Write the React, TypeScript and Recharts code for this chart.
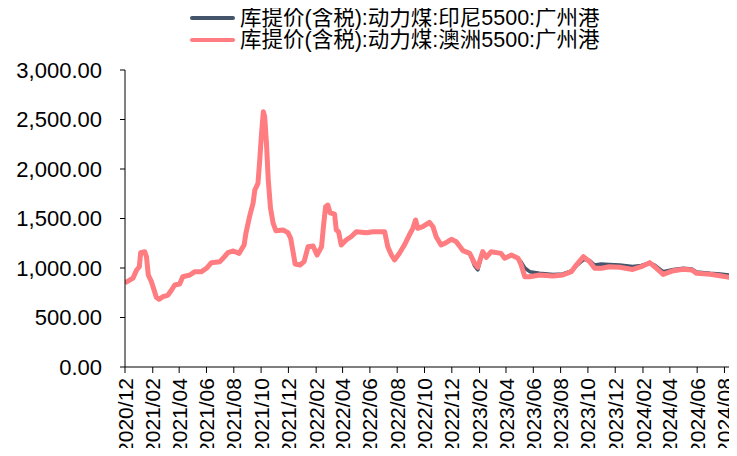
import React from "react";
import { CartesianGrid, Line, LineChart, XAxis, YAxis } from "recharts";

const seriesNames = [
  "库提价(含税):动力煤:印尼5500:广州港",
  "库提价(含税):动力煤:澳洲5500:广州港",
];
const seriesColors = ["#44546A", "#FF7C80"];

const dates = [
  "2020-12-01", "2020-12-19", "2020-12-27", "2021-01-02", "2021-01-05", "2021-01-14", "2021-01-18", "2021-01-22", "2021-01-29", "2021-02-09",
  "2021-02-15", "2021-02-24", "2021-03-07", "2021-03-15", "2021-03-22", "2021-04-02", "2021-04-09", "2021-04-25", "2021-05-06", "2021-05-21",
  "2021-06-01", "2021-06-12", "2021-07-01", "2021-07-08", "2021-07-19", "2021-07-31", "2021-08-13", "2021-08-24", "2021-08-28", "2021-09-06",
  "2021-09-13", "2021-09-17", "2021-09-24", "2021-09-28", "2021-10-02", "2021-10-06", "2021-10-09", "2021-10-13", "2021-10-17", "2021-10-22",
  "2021-10-28", "2021-11-03", "2021-11-19", "2021-11-30", "2021-12-06", "2021-12-12", "2021-12-16", "2021-12-27", "2022-01-05", "2022-01-14",
  "2022-01-25", "2022-02-03", "2022-02-13", "2022-02-18", "2022-02-22", "2022-02-27", "2022-03-04", "2022-03-14", "2022-03-18", "2022-03-23",
  "2022-03-29", "2022-04-09", "2022-04-20", "2022-05-02", "2022-05-24", "2022-06-08", "2022-07-04", "2022-07-11", "2022-07-19", "2022-07-26",
  "2022-08-06", "2022-08-17", "2022-08-28", "2022-09-05", "2022-09-11", "2022-09-16", "2022-09-27", "2022-10-12", "2022-10-20", "2022-10-27",
  "2022-11-07", "2022-11-18", "2022-11-30", "2022-12-11", "2022-12-26", "2023-01-10", "2023-01-21", "2023-01-28", "2023-02-08", "2023-02-16",
  "2023-02-27", "2023-03-21", "2023-03-29", "2023-04-13", "2023-04-28", "2023-05-05", "2023-05-13", "2023-05-24", "2023-06-15", "2023-07-15",
  "2023-08-06", "2023-08-25", "2023-09-05", "2023-09-21", "2023-10-05", "2023-10-16", "2023-10-31", "2023-11-18", "2023-12-11", "2024-01-09",
  "2024-01-28", "2024-02-16", "2024-02-27", "2024-03-17", "2024-04-09", "2024-05-01", "2024-05-20", "2024-05-31", "2024-06-30", "2024-07-22",
  "2024-08-13", "2024-08-29",
];

// 印尼5500
const indo = [
  850, 898, 980, 1013, 1155, 1165, 1114, 929, 862, 704,
  684, 710, 727, 778, 828, 838, 912, 929, 963, 963,
  997, 1054, 1064, 1098, 1155, 1172, 1148, 1232, 1350, 1535,
  1653, 1788, 1855, 2091, 2360, 2579, 2528, 2259, 1889, 1603,
  1451, 1377, 1384, 1357, 1300, 1148, 1040, 1030, 1064, 1215,
  1222, 1131, 1215, 1451, 1619, 1636, 1558, 1545, 1384, 1367,
  1232, 1283, 1316, 1367, 1357, 1367, 1367, 1215, 1131, 1081,
  1148, 1232, 1333, 1401, 1485, 1401, 1417, 1461, 1417, 1316,
  1232, 1256, 1290, 1266, 1175, 1148, 1020, 980, 1165, 1108,
  1165, 1148, 1098, 1131, 1098, 1060, 1000, 963, 946, 935,
  940, 970, 1020, 1085, 1075, 1030, 1040, 1035, 1030, 1015,
  1025, 1050, 1030, 963, 985, 997, 990, 960, 946, 940,
  929, 970,
];

// 澳洲5500
const aus = [
  850, 898, 980, 1013, 1155, 1165, 1114, 929, 862, 704,
  684, 710, 727, 778, 828, 838, 912, 929, 963, 963,
  997, 1054, 1064, 1098, 1155, 1172, 1148, 1232, 1350, 1535,
  1653, 1788, 1855, 2091, 2360, 2579, 2528, 2259, 1889, 1603,
  1451, 1377, 1384, 1357, 1300, 1148, 1040, 1030, 1064, 1215,
  1222, 1131, 1215, 1451, 1619, 1636, 1558, 1545, 1384, 1367,
  1232, 1283, 1316, 1367, 1357, 1367, 1367, 1215, 1131, 1081,
  1148, 1232, 1333, 1401, 1485, 1401, 1417, 1461, 1417, 1316,
  1232, 1256, 1290, 1266, 1175, 1148, 1047, 1007, 1165, 1108,
  1165, 1148, 1098, 1131, 1098, 1030, 912, 912, 929, 919,
  929, 963, 1030, 1114, 1064, 997, 997, 1013, 1007, 985,
  1013, 1054, 1013, 935, 973, 987, 980, 946, 936, 922,
  906, 955,
];

const xTickLabels = [
  "2020/12", "2021/02", "2021/04", "2021/06", "2021/08", "2021/10", "2021/12",
  "2022/02", "2022/04", "2022/06", "2022/08", "2022/10", "2022/12",
  "2023/02", "2023/04", "2023/06", "2023/08", "2023/10", "2023/12",
  "2024/02", "2024/04", "2024/06", "2024/08",
];
const yTicks = [0, 500, 1000, 1500, 2000, 2500, 3000];

const toTs = (s: string) => {
  const [y, m, d] = s.split(/[-/]/).map(Number);
  return Date.UTC(y, m - 1, d || 1);
};

const data = dates.map((d, i) => ({ ts: toTs(d), indo: indo[i], aus: aus[i] }));
const xTicks = xTickLabels.map(toTs);

const FONT = '"Liberation Sans", Arial, "Noto Sans CJK SC", sans-serif';
const W = 737;
const H = 440;

const fmtMonth = (v: number) => {
  const d = new Date(v);
  return `${d.getUTCFullYear()}/${String(d.getUTCMonth() + 1).padStart(2, "0")}`;
};

const fmtY = (v: number) =>
  v.toLocaleString("en-US", { minimumFractionDigits: 2, maximumFractionDigits: 2 });

const XTick = (props: any) => {
  const { x, y, payload } = props;
  return (
    <text
      x={x}
      y={y}
      transform={`rotate(-90, ${x}, ${y})`}
      textAnchor="end"
      dy="0.36em"
      fontSize={21}
      fontFamily={FONT}
      fill="#000"
    >
      {fmtMonth(payload.value)}
    </text>
  );
};

const App = () => (
  <div style={{ position: "relative", width: W, height: H, fontFamily: FONT }}>
    <div style={{ position: "absolute", left: 182, top: -1, zIndex: 2 }}>
      {seriesNames.map((name, i) => (
        <div key={name} style={{ display: "flex", alignItems: "center", height: 22 }}>
          <span
            style={{
              display: "inline-block",
              width: 45,
              height: 4,
              borderRadius: 2,
              background: seriesColors[i],
              marginRight: 5,
            }}
          />
          <span style={{ fontSize: 21.5, lineHeight: "22px", color: "#000", whiteSpace: "nowrap" }}>
            {name}
          </span>
        </div>
      ))}
    </div>
    <LineChart
      width={W}
      height={H}
      data={data}
      margin={{ top: 62, right: 8, bottom: 0, left: 0 }}
    >
      <CartesianGrid stroke="none" />
      <XAxis
        dataKey="ts"
        type="number"
        scale="time"
        domain={[toTs("2020-12-01"), toTs("2024-08-29")]}
        ticks={xTicks}
        interval={0}
        height={81}
        tick={<XTick />}
        tickSize={6}
        tickMargin={5}
        axisLine={{ stroke: "#000" }}
        tickLine={{ stroke: "#000" }}
        allowDataOverflow
      />
      <YAxis
        type="number"
        domain={[0, 3000]}
        ticks={yTicks}
        width={117}
        tickFormatter={fmtY}
        tickSize={5}
        tickMargin={18}
        tick={{ fontSize: 22, fill: "#000", fontFamily: FONT }}
        axisLine={{ stroke: "#000" }}
        tickLine={{ stroke: "#000" }}
      />
      <Line
        type="linear"
        dataKey="indo"
        stroke={seriesColors[0]}
        strokeWidth={3.5}
        dot={false}
        strokeLinejoin="round"
        isAnimationActive={false}
      />
      <Line
        type="linear"
        dataKey="aus"
        stroke={seriesColors[1]}
        strokeWidth={5}
        dot={false}
        strokeLinejoin="round"
        isAnimationActive={false}
      />
    </LineChart>
  </div>
);

export default App;
